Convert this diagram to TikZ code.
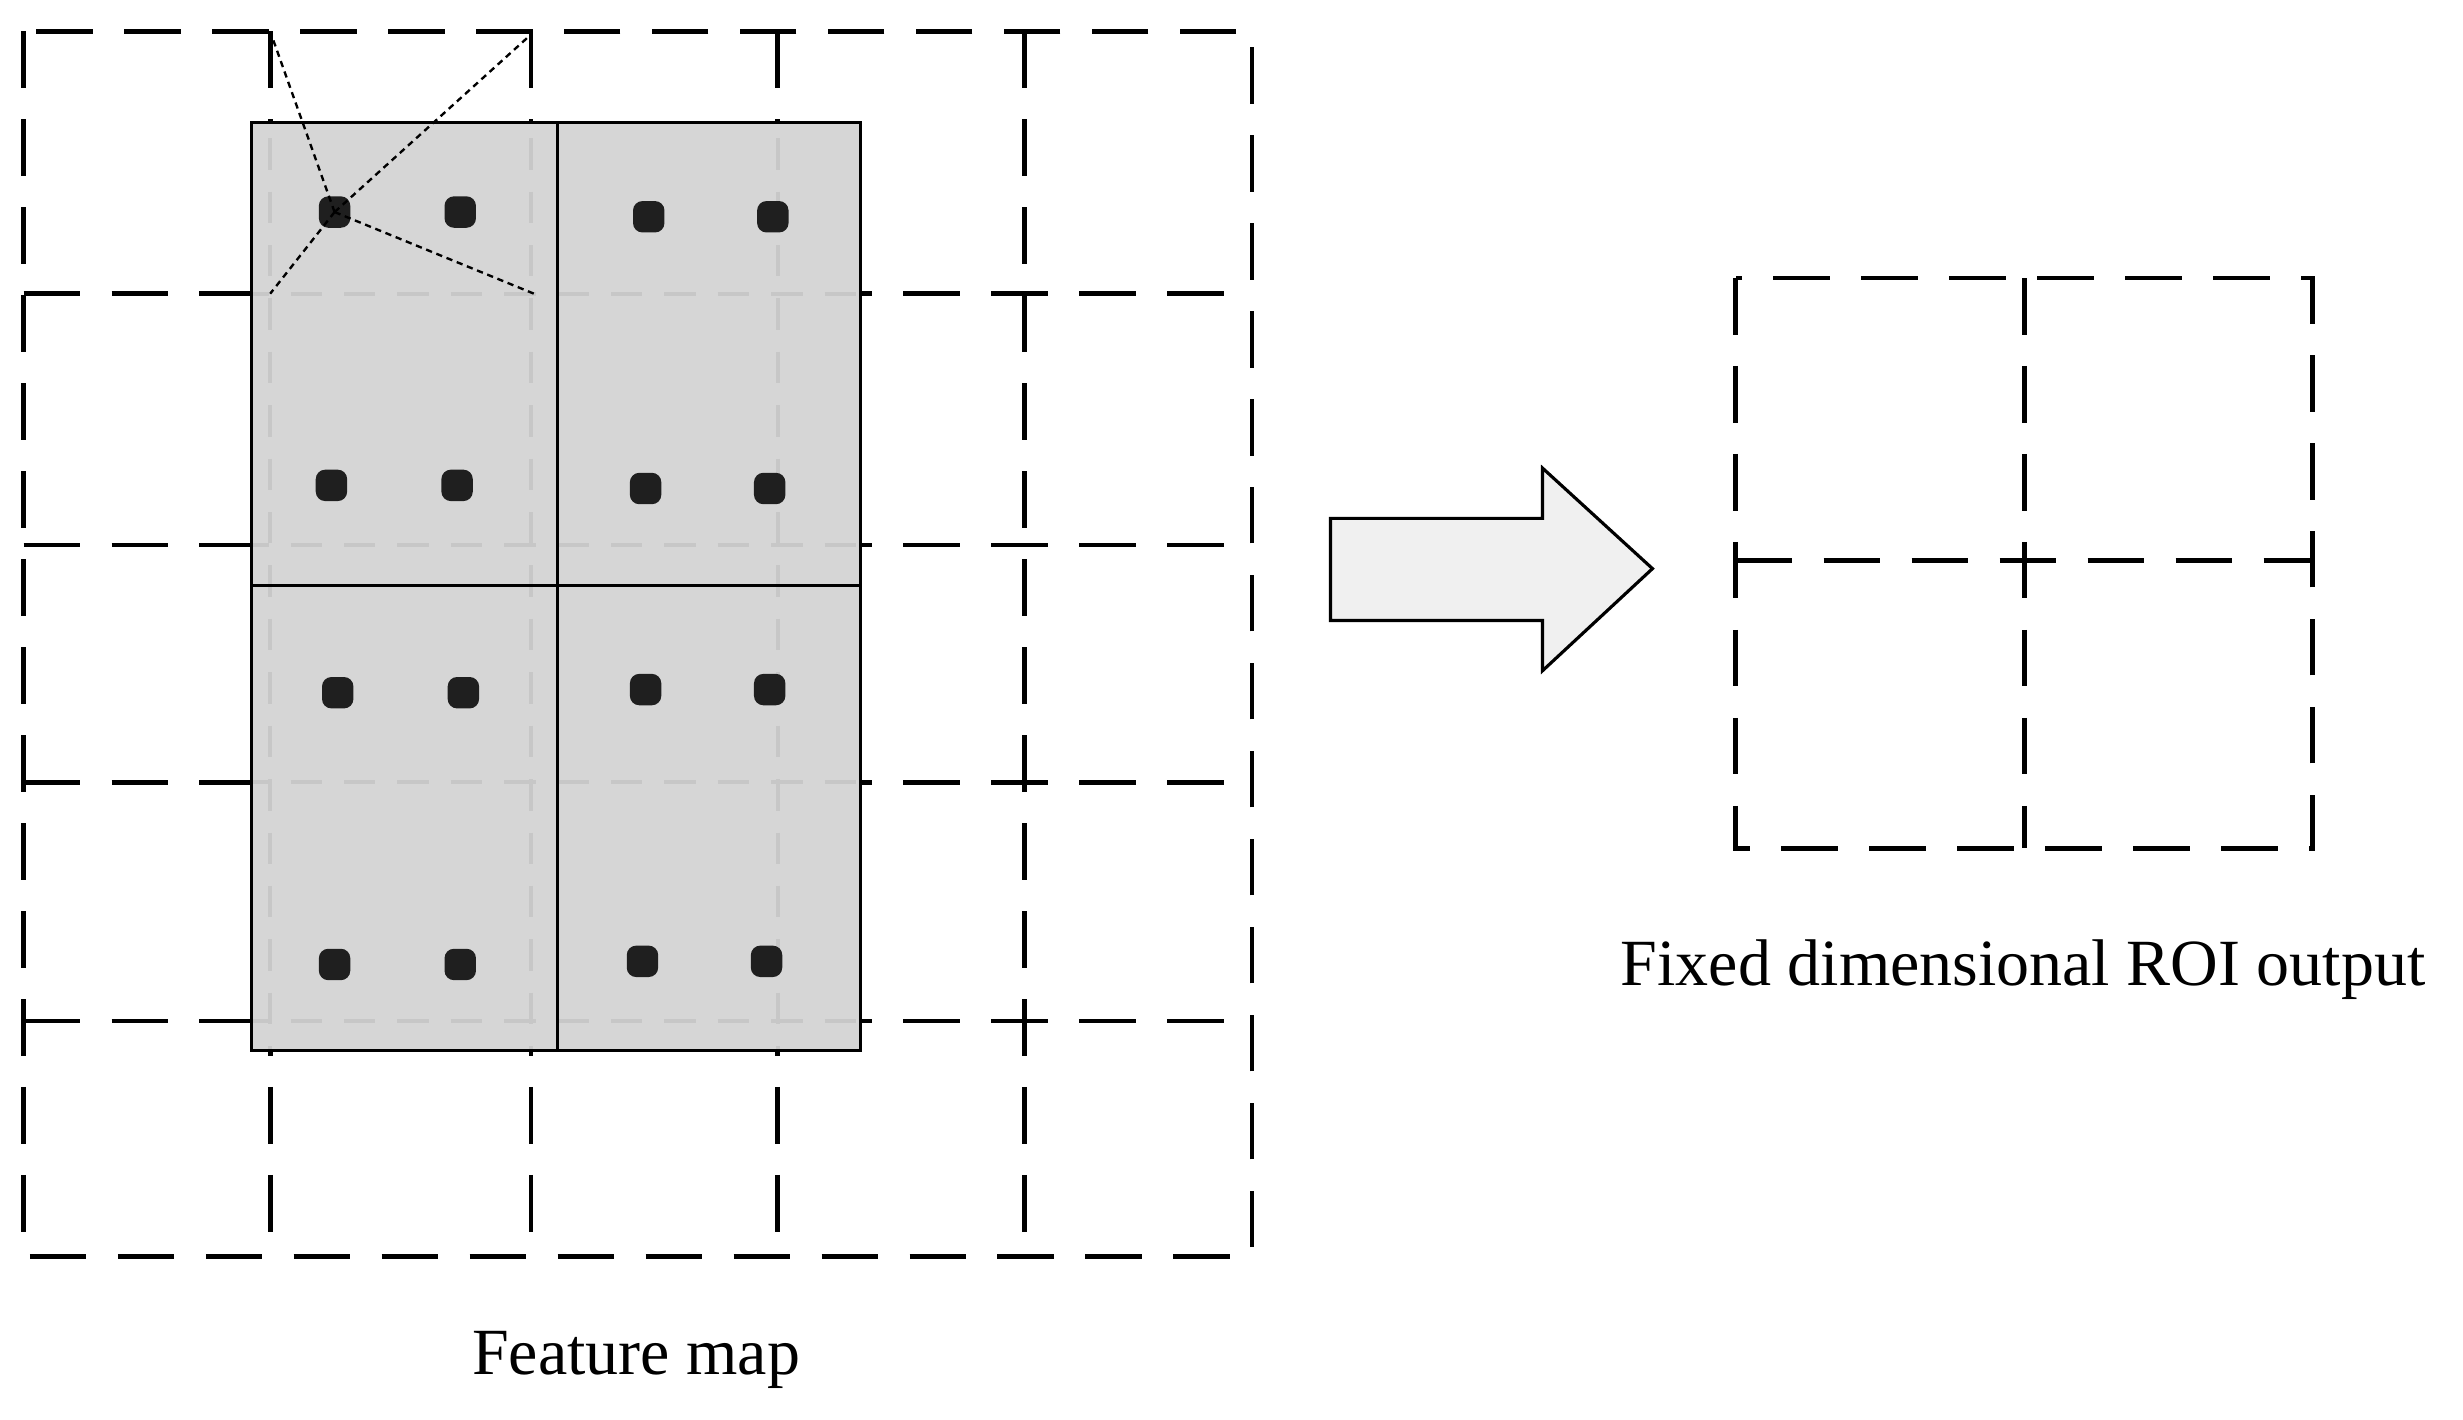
\documentclass[tikz,border=0pt]{standalone}
\usepackage{fontspec}
\setmainfont{Liberation Serif}
\begin{document}
\begin{tikzpicture}[x=1pt,y=-1pt,
  grid/.style={line width=3pt,dash pattern=on 36pt off 20pt},
  lgrid/.style={line width=2.5pt,color=black!22,dash pattern=on 20pt off 14pt},
  dot/.style={fill=black!88,rounded corners=6pt,minimum size=20pt,inner sep=0pt},
  lbl/.style={font=\fontsize{42}{48}\selectfont}]
\useasboundingbox (0,0) rectangle (1568,904);
% feature map grid
\draw[grid] (15,20) rectangle (797,800);
\foreach \x in {172,338,495,652} \draw[grid] (\x,20) -- (\x,800);
\foreach \y in {187,347,498,650} \draw[grid] (15,\y) -- (797,\y);
% ROI
\fill[black!16] (160,78) rectangle (548,669);
\begin{scope}
\clip (160,78) rectangle (548,669);
\foreach \x in {172,338,495} \draw[lgrid] (\x,20) -- (\x,800);
\foreach \y in {187,347,498,650} \draw[lgrid] (15,\y) -- (797,\y);
\end{scope}
\draw[line width=2pt] (160,78) rectangle (548,669);
\draw[line width=2pt] (355,78) -- (355,669) (160,373) -- (548,373);
% dots
\foreach \n/\x/\y in {a/213/135,b/293/135,c/413/138,d/492/138,
  e/211/309,f/291/309,g/411/311,h/490/311,
  i/215/441,j/295/441,k/411/439,l/490/439,
  m/213/614,n/293/614,o/409/612,p/488/612}
  \node[dot] (\n) at (\x,\y) {};
\coordinate (t1) at (172,20); \coordinate (t2) at (338,22);
\coordinate (t3) at (172,187); \coordinate (t4) at (340,187);
\foreach \t in {t1,t2,t3,t4} \draw[line width=1.5pt,dash pattern=on 4pt off 3pt] (a.center) -- (\t);
% arrow
\draw[line width=2pt,fill=black!6,line join=miter] (847,330) -- (982,330) -- (982,298) -- (1052,362)
  -- (982,427) -- (982,395) -- (847,395) -- cycle;
% output grid
\draw[grid] (1105,177) rectangle (1472,540);
\draw[grid] (1289,177) -- (1289,540);
\draw[grid] (1105,357) -- (1472,357);
\node[lbl] (fm) at (405,866) {Feature map};
\node[lbl] (fo) at (1288,617) {Fixed dimensional ROI output};
\end{tikzpicture}
\end{document}
